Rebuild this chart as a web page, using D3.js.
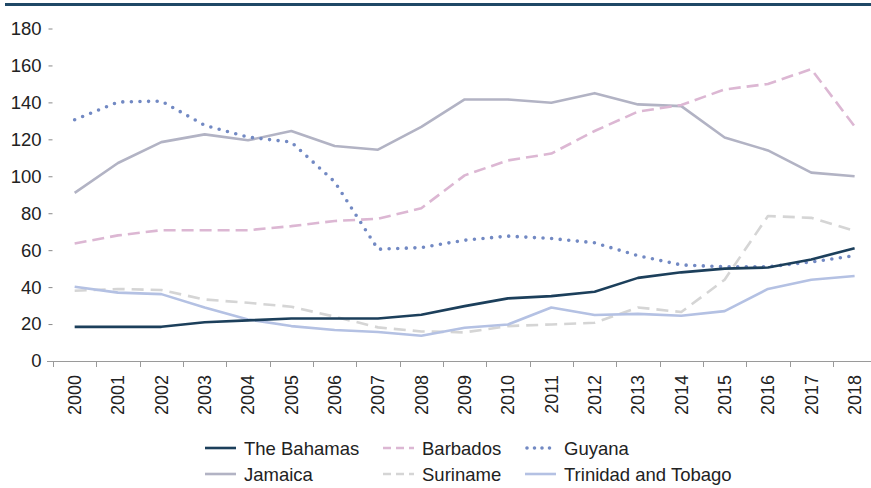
<!DOCTYPE html>
<html>
<head>
<meta charset="utf-8">
<script src="https://cdn.jsdelivr.net/npm/d3@7"></script>
<style>
  body { margin: 0; background: #fff; }
  text { font-family: "Liberation Sans", Arial, sans-serif; fill: #222; }
</style>
</head>
<body>
<div id="chart"></div>
<script>
// Data
var years = ["2000","2001","2002","2003","2004","2005","2006","2007","2008","2009",
             "2010","2011","2012","2013","2014","2015","2016","2017","2018"];
var yTicks = [0, 20, 40, 60, 80, 100, 120, 140, 160, 180];

var bahamas  = [18.5,18.5,18.5,21,22,23,23,23,25,29.7,33.9,35.1,37.5,45,48,50,50.6,55,61];
var barbados = [63.6,68,70.8,70.8,70.8,73,75.8,77,82.7,100.5,108.6,112.3,124.5,135,138.6,147,150,158,127];
var guyana   = [130.6,140.2,140.7,127.6,121.2,118.5,97,60.5,61.4,65.4,67.6,66.3,64,57,52,51,51,53.6,57];
var jamaica  = [91,107.2,118.5,122.7,119.5,124.5,116.4,114.4,126.7,141.6,141.6,139.8,145,138.9,138,121,114,102,100];
var suriname = [38,39,38.4,33.3,31.5,29.4,24,18.2,16,15.5,18.9,19.8,20.7,29,26.5,44,78.5,77.5,70.5];
var trinidad = [40.2,37,36.2,29,22.5,18.9,16.8,15.7,13.7,18,19.8,29,24.9,25.5,24.5,27,39,44,46];

var seriesNames = ["The Bahamas","Barbados","Guyana","Jamaica","Suriname","Trinidad and Tobago"];

// styles per series
var styles = {
  "The Bahamas":         {color: "#1c3f5b", dash: null,  width: 2.6, cap: "butt"},
  "Barbados":            {color: "#dcb7d3", dash: "12,6", width: 2.6, cap: "butt"},
  "Guyana":              {color: "#7289c3", dash: "0,8.6", width: 3.6, cap: "round"},
  "Jamaica":             {color: "#b2b3c4", dash: null,  width: 2.6, cap: "butt"},
  "Suriname":            {color: "#d5d5d5", dash: "12,7", width: 2.6, cap: "butt"},
  "Trinidad and Tobago": {color: "#b4c1e3", dash: null,  width: 2.6, cap: "butt"}
};

var seriesData = {
  "The Bahamas": bahamas, "Barbados": barbados, "Guyana": guyana,
  "Jamaica": jamaica, "Suriname": suriname, "Trinidad and Tobago": trinidad
};

var width = 871, height = 488;

var svg = d3.select("#chart")
  .append("svg")
    .attr("width", width)
    .attr("height", height);

// top rule
svg.append("line")
  .attr("x1", 5).attr("x2", width)
  .attr("y1", 4.5).attr("y2", 4.5)
  .attr("stroke", "#1f4866")
  .attr("stroke-width", 3);

// scales
var x = d3.scaleBand()
  .domain(years)
  .range([53, 53 + 19 * 43.33]);

var y = d3.scaleLinear()
  .domain([0, 180])
  .range([361, 28.5]);

// Y axis: labels and small ticks, no domain line
var yAxis = svg.append("g")
  .attr("transform", "translate(52.5,0)")
  .call(d3.axisLeft(y).tickValues(yTicks).tickSize(4).tickPadding(7).tickSizeOuter(0));
yAxis.select(".domain").remove();
yAxis.selectAll(".tick line").attr("stroke", "#8a8a8a");
yAxis.selectAll("text")
  .style("font-size", "18.5px")
  .style("font-family", "'Liberation Sans', Arial, sans-serif")
  .attr("fill", "#222");

// X axis line
svg.append("line")
  .attr("x1", 47).attr("x2", width)
  .attr("y1", y(0) + 0.5).attr("y2", y(0) + 0.5)
  .attr("stroke", "#9a9a9a");

// X ticks at band edges
svg.append("g")
  .selectAll("line")
  .data(years)
  .enter()
  .append("line")
    .attr("x1", function(d) { return Math.round(x(d)) + 0.5; })
    .attr("x2", function(d) { return Math.round(x(d)) + 0.5; })
    .attr("y1", y(0))
    .attr("y2", y(0) + 6)
    .attr("stroke", "#9a9a9a");

// X labels rotated
var xAxis = svg.append("g")
  .attr("transform", "translate(0," + y(0) + ")")
  .call(d3.axisBottom(x).tickSize(0).tickPadding(0));
xAxis.select(".domain").remove();
xAxis.selectAll("text")
  .style("font-size", "18px")
  .style("font-family", "'Liberation Sans', Arial, sans-serif")
  .attr("fill", "#222")
  .attr("text-anchor", "end")
  .attr("dy", "0.35em")
  .attr("transform", "translate(0,14) rotate(-90)")
  .attr("x", 0)
  .attr("y", 0);

// lines
var line = d3.line()
  .x(function(d, i) { return x(years[i]) + x.bandwidth() / 2; })
  .y(function(d) { return y(d); });

var drawOrder = ["Jamaica","Suriname","Trinidad and Tobago","Barbados","Guyana","The Bahamas"];
drawOrder.forEach(function(name) {
  var s = styles[name];
  svg.append("path")
    .datum(seriesData[name])
    .attr("fill", "none")
    .attr("stroke", s.color)
    .attr("stroke-width", s.width)
    .attr("stroke-dasharray", s.dash)
    .attr("stroke-linecap", s.cap)
    .attr("stroke-linejoin", "round")
    .attr("d", line);
});

// legend
var legendCols = [205, 383, 525];
var legendRows = [448, 474];
var legend = svg.append("g");
seriesNames.forEach(function(name, i) {
  var s = styles[name];
  var lx = legendCols[i % 3];
  var ly = legendRows[Math.floor(i / 3)];
  legend.append("line")
    .attr("x1", lx + (s.cap === "round" ? 2 : 0))
    .attr("x2", lx + 31)
    .attr("y1", ly).attr("y2", ly)
    .attr("stroke", s.color)
    .attr("stroke-width", s.width)
    .attr("stroke-dasharray", s.dash ? (s.cap === "round" ? "0,7.5" : "8,5") : null)
    .attr("stroke-linecap", s.cap);
  legend.append("text")
    .attr("x", lx + 39)
    .attr("y", ly)
    .attr("dy", "0.36em")
    .style("font-size", "18.5px")
    .text(name);
});
</script>
</body>
</html>
